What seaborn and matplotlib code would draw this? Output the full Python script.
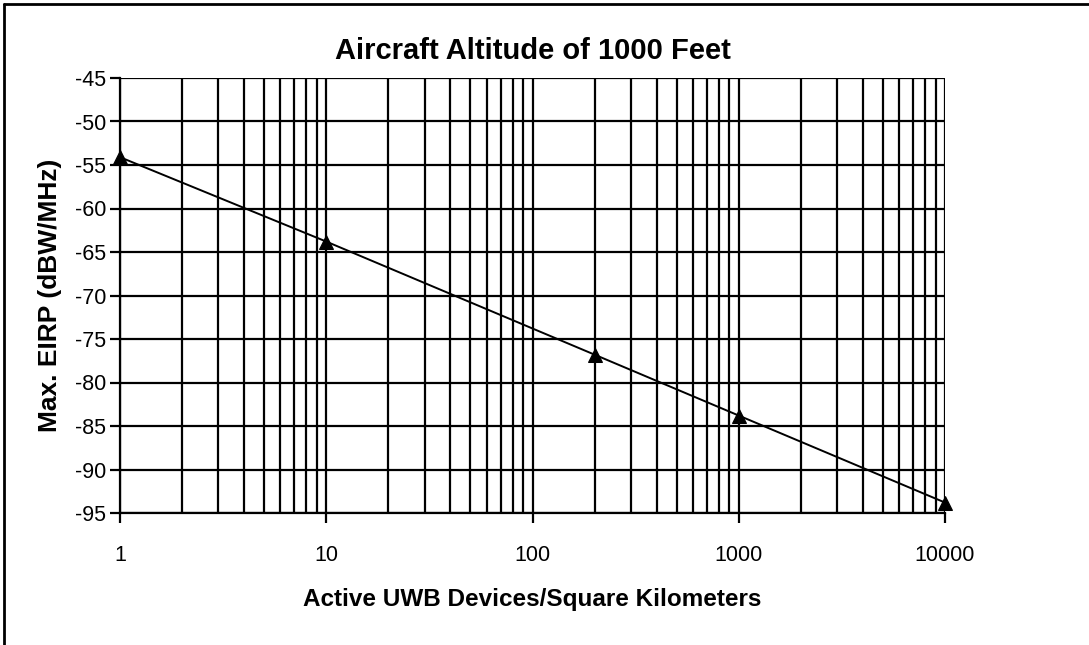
import matplotlib
matplotlib.use("Agg")
import matplotlib.pyplot as plt
import matplotlib.ticker as mticker
from matplotlib.lines import Line2D
import numpy as np
import pandas as pd
import seaborn as sns

# Device density (per km^2) and resulting maximum EIRP
devices_per_km2 = [1, 10, 200, 1000, 10000]
max_eirp_dbw_mhz = [-54.1, -63.8, -76.8, -83.8, -93.8]

y_ticks = [-45, -50, -55, -60, -65, -70, -75, -80, -85, -90, -95]
x_ticks = [1, 10, 100, 1000, 10000]
x_tick_labels = ["1", "10", "100", "1000", "10000"]

title = "Aircraft Altitude of 1000 Feet"
x_label = "Active UWB Devices/Square Kilometers"
y_label = "Max. EIRP (dBW/MHz)"

sns.set_style("white")
plt.rcParams["font.family"] = ["Liberation Sans", "DejaVu Sans"]
plt.rcParams["text.color"] = "black"
plt.rcParams["axes.labelcolor"] = "black"
plt.rcParams["xtick.color"] = "black"
plt.rcParams["ytick.color"] = "black"

df = pd.DataFrame({"devices": devices_per_km2, "eirp": max_eirp_dbw_mhz})

fig = plt.figure(figsize=(10.89, 6.45), dpi=100)
ax = fig.add_axes([120 / 1089, 1 - 513 / 645, 825 / 1089, 435 / 645])

sns.lineplot(data=df, x="devices", y="eirp", ax=ax, color="black",
             linewidth=1.4, marker="^", markersize=10, markeredgecolor="black",
             markerfacecolor="black", zorder=5, clip_on=False)

ax.set_xscale("log")
ax.set_xlim(1, 10000)
ax.set_ylim(-95, -45)

# Grid: every 5 dB horizontally, every decade subdivision vertically
ax.set_yticks(y_ticks)
ax.set_yticklabels([str(v) for v in y_ticks])
ax.xaxis.set_major_locator(mticker.FixedLocator(x_ticks))
ax.xaxis.set_major_formatter(mticker.FixedFormatter(x_tick_labels))
ax.xaxis.set_minor_locator(mticker.LogLocator(base=10, subs=np.arange(2, 10)))
ax.xaxis.set_minor_formatter(mticker.NullFormatter())
ax.grid(True, which="both", axis="x", color="black", linewidth=1.6)
ax.grid(True, which="major", axis="y", color="black", linewidth=1.6)
ax.set_axisbelow(True)

for side in ["top", "right"]:
    ax.spines[side].set_visible(False)
for side in ["left", "bottom"]:
    ax.spines[side].set_color("black")
    ax.spines[side].set_linewidth(1.6)

ax.tick_params(axis="y", which="major", direction="out", length=7, width=1.6,
               color="black", labelsize=15.5, pad=3, left=True)
ax.tick_params(axis="x", which="major", direction="out", length=7, width=1.6,
               color="black", labelsize=15.5, pad=16, bottom=True)
ax.tick_params(axis="x", which="minor", length=0)

ax.set_xlabel(x_label, fontsize=17.5, fontweight="bold", labelpad=16)
ax.set_ylabel(y_label, fontsize=19, fontweight="bold", labelpad=9)
ax.set_title(title, fontsize=21, fontweight="bold", pad=14)

# Outer frame around the chart area
fig.add_artist(Line2D([4 / 1089, 1], [1 - 4 / 645, 1 - 4 / 645],
                      transform=fig.transFigure, color="black", linewidth=2))
fig.add_artist(Line2D([4 / 1089, 4 / 1089], [0, 1 - 4 / 645],
                      transform=fig.transFigure, color="black", linewidth=2))

fig.savefig("out.png", dpi=100)
